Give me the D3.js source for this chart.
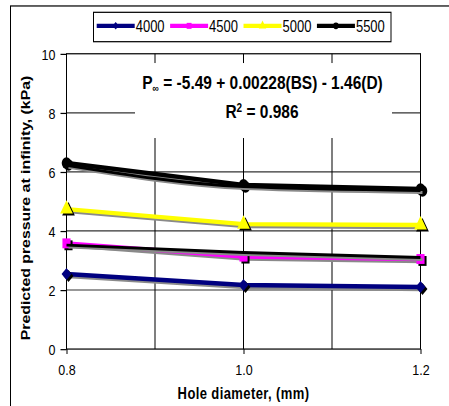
<!DOCTYPE html>
<html>
<head>
<meta charset="utf-8">
<script src="https://cdn.jsdelivr.net/npm/d3@7"></script>
<style>
  body { margin: 0; background: #fff; }
  text { font-family: 'Liberation Sans', Arial, sans-serif; fill: #000; }
</style>
</head>
<body>
<div id="chart"></div>
<script>
const holeDiameter = [0.8, 1.0, 1.2]
const bsLabels = ['4000', '4500', '5000', '5500']
const p4000 = [2.54, 2.17, 2.1]
const p4500 = [3.58, 3.13, 3.05]
const p5000 = [4.74, 4.23, 4.2]
const p5500 = [6.3, 5.56, 5.42]
// two black lines with no legend entry, lying over 4500 and 5500
const extra4500 = [3.52, 3.27, 3.1]
const extra5500 = [6.22, 5.5, 5.37]
const yTicks = [0, 2, 4, 6, 8, 10]
const xTicks = [0.8, 1.0, 1.2]
const xGrid = [0.8, 0.9, 1.0, 1.1, 1.2]

// the original picture is stretched vertically, so draw in a shorter box and stretch it
const width = 449,
  height = 406,
  innerH = 333

const svg = d3
  .select('#chart')
  .append('svg')
  .attr('width', width)
  .attr('height', height)
  .attr('viewBox', `0 0 ${width} ${innerH}`)
  .attr('preserveAspectRatio', 'none')

// chart border (runs off the right and bottom edge)
svg
  .append('rect')
  .attr('x', 10.5)
  .attr('y', 4.9)
  .attr('width', 460)
  .attr('height', 360)
  .attr('fill', 'none')
  .attr('stroke', '#000')
  .attr('stroke-width', 1)

const plot = { left: 66.5, right: 420.5, top: 44.1, bottom: 286.3 }

const x = d3.scaleLinear().domain([0.8, 1.2]).range([plot.left, plot.right])
const y = d3.scaleLinear().domain([0, 10]).range([plot.bottom, plot.top])

// gridlines
svg
  .append('g')
  .selectAll('line')
  .data(yTicks.slice(1, -1))
  .enter()
  .append('line')
  .attr('x1', plot.left)
  .attr('x2', plot.right)
  .attr('y1', (d) => y(d))
  .attr('y2', (d) => y(d))
  .attr('stroke', '#333')
  .attr('stroke-width', 1)
svg
  .append('g')
  .selectAll('line')
  .data(xGrid)
  .enter()
  .append('line')
  .attr('x1', (d) => x(d))
  .attr('x2', (d) => x(d))
  .attr('y1', plot.top)
  .attr('y2', plot.bottom)
  .attr('stroke', '#000')
  .attr('stroke-width', 1)

// plot frame
svg
  .append('rect')
  .attr('x', plot.left)
  .attr('y', plot.top)
  .attr('width', plot.right - plot.left)
  .attr('height', plot.bottom - plot.top)
  .attr('fill', 'none')
  .attr('stroke', '#000')
  .attr('stroke-width', 1)

// axes
const yAxis = svg
  .append('g')
  .attr('transform', `translate(${plot.left},0)`)
  .call(d3.axisLeft(y).tickValues(yTicks).tickSize(6).tickPadding(5).tickFormat(d3.format('d')))
yAxis.select('.domain').remove()
yAxis.selectAll('text').style('font-size', '12.5px').attr('dy', '0.35em')

const xAxis = svg
  .append('g')
  .attr('transform', `translate(0,${plot.bottom})`)
  .call(d3.axisBottom(x).tickValues(xTicks).tickSize(4).tickPadding(8).tickFormat(d3.format('.1f')))
xAxis.select('.domain').remove()
xAxis.selectAll('text').style('font-size', '12.5px')

// equation box hides part of the grid
svg
  .append('rect')
  .attr('x', 135)
  .attr('y', 51.7)
  .attr('width', 257)
  .attr('height', 61.5)
  .attr('fill', '#fff')

const eq = svg
  .append('text')
  .attr('x', 262.5)
  .attr('y', 67.3)
  .attr('dy', '0.35em')
  .attr('text-anchor', 'middle')
  .style('font-size', '15.5px')
  .style('font-weight', 'bold')
eq.append('tspan').text('P')
eq.append('tspan').attr('dy', 3).style('font-size', '9px').text('\u221e')
eq.append('tspan').attr('dy', -3).text(' = -5.49 + 0.00228(BS) - 1.46(D)')

const r2 = svg
  .append('text')
  .attr('x', 262)
  .attr('y', 91.5)
  .attr('dy', '0.35em')
  .attr('text-anchor', 'middle')
  .style('font-size', '15.5px')
  .style('font-weight', 'bold')
r2.append('tspan').text('R')
r2.append('tspan').attr('dy', -5).style('font-size', '10px').text('2')
r2.append('tspan').attr('dy', 5).text(' = 0.986')

// series
const series = [
  { name: bsLabels[0], values: p4000, color: '#000080', symbol: d3.symbolDiamond2, size: 62 },
  { name: bsLabels[1], values: p4500, color: '#ff00ff', symbol: d3.symbolSquare, size: 66 },
  { name: bsLabels[2], values: p5000, color: '#ffff00', symbol: d3.symbolTriangle, size: 70 },
  { name: bsLabels[3], values: p5500, color: '#000000', symbol: d3.symbolCircle, size: 72 },
]
const extras = [extra4500, extra5500]

const line = d3
  .line()
  .x((d, i) => x(holeDiameter[i]))
  .y((d) => y(d))
const smoothLine = d3
  .line()
  .curve(d3.curveMonotoneX)
  .x((d, i) => x(holeDiameter[i]))
  .y((d) => y(d))

const dataLayer = svg.append('g')

function drawLine(values, color, gen, w) {
  dataLayer
    .append('path')
    .attr('d', gen(values))
    .attr('transform', 'translate(2,1.6)')
    .attr('fill', 'none')
    .attr('stroke', '#8a8a8a')
    .attr('stroke-width', w)
  dataLayer
    .append('path')
    .attr('d', gen(values))
    .attr('fill', 'none')
    .attr('stroke', color)
    .attr('stroke-width', w)
    .attr('stroke-linejoin', 'round')
}

series.forEach((s) => {
  drawLine(s.values, s.color, line, 3.6)
  const sym = d3.symbol().type(s.symbol).size(s.size)
  dataLayer
    .selectAll(null)
    .data(s.values)
    .enter()
    .append('path')
    .attr('d', sym)
    .attr('transform', (d, i) => `translate(${x(holeDiameter[i]) + 2},${y(d) + 1.6})`)
    .attr('fill', '#000')
  dataLayer
    .selectAll(null)
    .data(s.values)
    .enter()
    .append('path')
    .attr('d', sym)
    .attr('transform', (d, i) => `translate(${x(holeDiameter[i])},${y(d)})`)
    .attr('fill', s.color)
})

extras.forEach((vals) => drawLine(vals, '#000', smoothLine, 2.4))

// legend
const legend = svg.append('g')
legend
  .append('rect')
  .attr('x', 93.5)
  .attr('y', 10.1)
  .attr('width', 297.5)
  .attr('height', 24.1)
  .attr('fill', '#fff')
  .attr('stroke', '#000')
  .attr('stroke-width', 1)

let lx = 96.7
const ly = 21.2
series.forEach((s) => {
  legend
    .append('line')
    .attr('x1', lx)
    .attr('x2', lx + 38)
    .attr('y1', ly)
    .attr('y2', ly)
    .attr('stroke', s.color)
    .attr('stroke-width', 3.4)
  legend
    .append('path')
    .attr('d', d3.symbol().type(s.symbol).size(24))
    .attr('transform', `translate(${lx + 19},${ly})`)
    .attr('fill', s.color)
  const t = legend
    .append('text')
    .attr('x', lx + 39)
    .attr('y', ly)
    .attr('dy', '0.36em')
    .style('font-size', '13px')
    .text(s.name)
  lx += 39 + t.node().getComputedTextLength() + 5.5
})

// axis titles
svg
  .append('text')
  .attr('x', 243.5)
  .attr('y', 322.4)
  .attr('dy', '0.36em')
  .attr('text-anchor', 'middle')
  .style('font-size', '13px')
  .style('font-weight', 'bold')
  .style('letter-spacing', '0.4px')
  .text('Hole diameter, (mm)')

svg
  .append('text')
  .attr('transform', 'translate(25,170.6) rotate(-90)')
  .attr('dy', '0.36em')
  .attr('text-anchor', 'middle')
  .style('font-size', '13px')
  .style('font-weight', 'bold')
  .text('Predicted pressure at infinity, (kPa)')
</script>
</body>
</html>
